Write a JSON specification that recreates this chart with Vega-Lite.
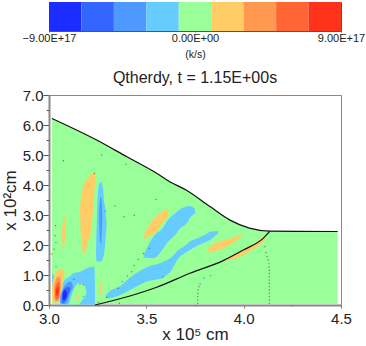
{
"$schema":"https://vega.github.io/schema/vega-lite/v6.json",
"padding":{"left":0,"top":1,"right":0,"bottom":0},
"background":"white",
"config":{"font":"Liberation Sans"},
"spacing":9,
"datasets":{
"bar":[{"lo":-9e17,"hi":-7e17,"level":-4},{"lo":-7e17,"hi":-5e17,"level":-3},{"lo":-5e17,"hi":-3e17,"level":-2},{"lo":-3e17,"hi":-1e17,"level":-1},{"lo":-1e17,"hi":1e17,"level":0},{"lo":1e17,"hi":3e17,"level":1},{"lo":3e17,"hi":5e17,"level":2},{"lo":5e17,"hi":7e17,"level":3},{"lo":7e17,"hi":9e17,"level":4}],
"blobs":[
{"blob":"domain","level":0,"x":3.015,"lo":0.03,"hi":6.22},{"blob":"domain","level":0,"x":3.245,"lo":0.03,"hi":5.5},{"blob":"domain","level":0,"x":3.4,"lo":0.03,"hi":4.94},{"blob":"domain","level":0,"x":3.553,"lo":0.03,"hi":4.39},{"blob":"domain","level":0,"x":3.62,"lo":0.03,"hi":4.11},{"blob":"domain","level":0,"x":3.704,"lo":0.03,"hi":3.83},{"blob":"domain","level":0,"x":3.827,"lo":0.03,"hi":3.28},{"blob":"domain","level":0,"x":3.93,"lo":0.03,"hi":2.83},{"blob":"domain","level":0,"x":4.03,"lo":0.03,"hi":2.56},{"blob":"domain","level":0,"x":4.135,"lo":0.03,"hi":2.46},{"blob":"domain","level":0,"x":4.483,"lo":0.03,"hi":2.45},
{"blob":"sliver","level":-1,"x":3.016,"lo":0.6,"hi":1.05},{"blob":"sliver","level":-1,"x":3.025,"lo":0.7,"hi":1.0},
{"blob":"foot","level":-1,"x":3.057,"lo":0.02,"hi":0.2},{"blob":"foot","level":-1,"x":3.067,"lo":0.02,"hi":0.6},{"blob":"foot","level":-1,"x":3.08,"lo":0.02,"hi":0.83},{"blob":"foot","level":-1,"x":3.108,"lo":0.02,"hi":0.95},{"blob":"foot","level":-1,"x":3.125,"lo":0.02,"hi":1.06},{"blob":"foot","level":-1,"x":3.159,"lo":0.02,"hi":1.11},{"blob":"foot","level":-1,"x":3.193,"lo":0.02,"hi":1.22},{"blob":"foot","level":-1,"x":3.233,"lo":0.02,"hi":1.28},{"blob":"foot","level":-1,"x":3.236,"lo":0.02,"hi":0.7},
{"blob":"hole","level":0,"x":3.104,"lo":0.02,"hi":0.02},{"blob":"hole","level":0,"x":3.116,"lo":0.02,"hi":0.33},{"blob":"hole","level":0,"x":3.134,"lo":0.02,"hi":0.61},{"blob":"hole","level":0,"x":3.147,"lo":0.02,"hi":0.7},{"blob":"hole","level":0,"x":3.159,"lo":0.05,"hi":0.74},{"blob":"hole","level":0,"x":3.168,"lo":0.14,"hi":0.72},{"blob":"hole","level":0,"x":3.185,"lo":0.28,"hi":0.61},{"blob":"hole","level":0,"x":3.193,"lo":0.39,"hi":0.39},
{"blob":"spot","level":1,"x":3.141,"lo":0.2,"hi":0.28},{"blob":"spot","level":1,"x":3.147,"lo":0.15,"hi":0.35},{"blob":"spot","level":1,"x":3.152,"lo":0.2,"hi":0.28},
{"blob":"lobeO","level":1,"x":3.017,"lo":0.09,"hi":0.72},{"blob":"lobeO","level":1,"x":3.027,"lo":0.09,"hi":0.95},{"blob":"lobeO","level":1,"x":3.039,"lo":0.09,"hi":1.11},{"blob":"lobeO","level":1,"x":3.057,"lo":0.12,"hi":1.17},{"blob":"lobeO","level":1,"x":3.067,"lo":0.5,"hi":1.17},{"blob":"lobeO","level":1,"x":3.076,"lo":0.95,"hi":1.16},{"blob":"lobeO","level":1,"x":3.082,"lo":1.12,"hi":1.14},
{"blob":"lobe2","level":2,"x":3.026,"lo":0.25,"hi":0.6},{"blob":"lobe2","level":2,"x":3.035,"lo":0.12,"hi":0.85},{"blob":"lobe2","level":2,"x":3.048,"lo":0.14,"hi":0.95},{"blob":"lobe2","level":2,"x":3.06,"lo":0.5,"hi":0.85},
{"blob":"lobe3","level":3,"x":3.031,"lo":0.3,"hi":0.55},{"blob":"lobe3","level":3,"x":3.04,"lo":0.18,"hi":0.72},{"blob":"lobe3","level":3,"x":3.05,"lo":0.22,"hi":0.78},{"blob":"lobe3","level":3,"x":3.056,"lo":0.5,"hi":0.68},
{"blob":"lobe4","level":4,"x":3.036,"lo":0.35,"hi":0.5},{"blob":"lobe4","level":4,"x":3.043,"lo":0.3,"hi":0.6},{"blob":"lobe4","level":4,"x":3.05,"lo":0.42,"hi":0.58},
{"blob":"blue2","level":-2,"x":3.057,"lo":0.1,"hi":0.28},{"blob":"blue2","level":-2,"x":3.074,"lo":0.03,"hi":0.56},{"blob":"blue2","level":-2,"x":3.091,"lo":0.06,"hi":0.72},{"blob":"blue2","level":-2,"x":3.111,"lo":0.44,"hi":0.78},{"blob":"blue2","level":-2,"x":3.122,"lo":0.56,"hi":0.67},
{"blob":"blue3","level":-3,"x":3.067,"lo":0.06,"hi":0.39},{"blob":"blue3","level":-3,"x":3.082,"lo":0.11,"hi":0.56},{"blob":"blue3","level":-3,"x":3.099,"lo":0.33,"hi":0.61},{"blob":"blue3","level":-3,"x":3.108,"lo":0.5,"hi":0.56},
{"blob":"blue4","level":-4,"x":3.07,"lo":0.19,"hi":0.33},{"blob":"blue4","level":-4,"x":3.08,"lo":0.17,"hi":0.5},{"blob":"blue4","level":-4,"x":3.091,"lo":0.28,"hi":0.44},
{"blob":"bigO","level":1,"x":3.159,"lo":3.17,"hi":3.17},{"blob":"bigO","level":1,"x":3.163,"lo":2.39,"hi":3.5},{"blob":"bigO","level":1,"x":3.168,"lo":1.95,"hi":3.72},{"blob":"bigO","level":1,"x":3.173,"lo":1.72,"hi":3.9},{"blob":"bigO","level":1,"x":3.185,"lo":1.78,"hi":4.11},{"blob":"bigO","level":1,"x":3.202,"lo":2.17,"hi":4.25},{"blob":"bigO","level":1,"x":3.214,"lo":2.39,"hi":4.35},{"blob":"bigO","level":1,"x":3.224,"lo":3.06,"hi":4.38},{"blob":"bigO","level":1,"x":3.233,"lo":3.72,"hi":4.41},{"blob":"bigO","level":1,"x":3.24,"lo":4.38,"hi":4.4},
{"blob":"vertB","level":-1,"x":3.241,"lo":1.6,"hi":1.6},{"blob":"vertB","level":-1,"x":3.243,"lo":1.5,"hi":2.2},{"blob":"vertB","level":-1,"x":3.248,"lo":1.45,"hi":3.27},{"blob":"vertB","level":-1,"x":3.255,"lo":1.45,"hi":3.95},{"blob":"vertB","level":-1,"x":3.265,"lo":1.44,"hi":4.1},{"blob":"vertB","level":-1,"x":3.276,"lo":1.55,"hi":3.95},{"blob":"vertB","level":-1,"x":3.284,"lo":1.75,"hi":3.4},{"blob":"vertB","level":-1,"x":3.288,"lo":2.0,"hi":3.3},{"blob":"vertB","level":-1,"x":3.296,"lo":2.7,"hi":2.7},
{"blob":"vertC","level":-2,"x":3.258,"lo":2.9,"hi":2.9},{"blob":"vertC","level":-2,"x":3.262,"lo":2.1,"hi":3.5},{"blob":"vertC","level":-2,"x":3.267,"lo":2.05,"hi":3.6},{"blob":"vertC","level":-2,"x":3.272,"lo":2.5,"hi":3.3},{"blob":"vertC","level":-2,"x":3.274,"lo":2.9,"hi":2.9},
{"blob":"thinO","level":1,"x":3.067,"lo":2.4,"hi":2.4},{"blob":"thinO","level":1,"x":3.072,"lo":1.83,"hi":2.85},{"blob":"thinO","level":1,"x":3.077,"lo":1.9,"hi":3.03},{"blob":"thinO","level":1,"x":3.084,"lo":2.4,"hi":2.6},
{"blob":"smallO","level":1,"x":3.259,"lo":0.55,"hi":0.55},{"blob":"smallO","level":1,"x":3.264,"lo":0.33,"hi":0.78},{"blob":"smallO","level":1,"x":3.271,"lo":0.55,"hi":0.55},
{"blob":"lowB","level":-1,"x":3.293,"lo":0.26,"hi":0.3},{"blob":"lowB","level":-1,"x":3.3,"lo":0.22,"hi":0.38},{"blob":"lowB","level":-1,"x":3.365,"lo":0.33,"hi":0.63},{"blob":"lowB","level":-1,"x":3.416,"lo":0.5,"hi":0.92},{"blob":"lowB","level":-1,"x":3.502,"lo":0.78,"hi":1.26},{"blob":"lowB","level":-1,"x":3.588,"lo":0.92,"hi":1.44},{"blob":"lowB","level":-1,"x":3.63,"lo":1.17,"hi":1.6},{"blob":"lowB","level":-1,"x":3.665,"lo":1.56,"hi":1.83},{"blob":"lowB","level":-1,"x":3.691,"lo":1.7,"hi":1.94},{"blob":"lowB","level":-1,"x":3.724,"lo":1.83,"hi":2.12},{"blob":"lowB","level":-1,"x":3.759,"lo":1.97,"hi":2.22},{"blob":"lowB","level":-1,"x":3.81,"lo":2.11,"hi":2.37},{"blob":"lowB","level":-1,"x":3.827,"lo":2.17,"hi":2.44},{"blob":"lowB","level":-1,"x":3.87,"lo":2.4,"hi":2.47},
{"blob":"upB","level":-1,"x":3.485,"lo":1.58,"hi":1.66},{"blob":"upB","level":-1,"x":3.536,"lo":1.56,"hi":2.28},{"blob":"upB","level":-1,"x":3.588,"lo":1.89,"hi":2.6},{"blob":"upB","level":-1,"x":3.605,"lo":2.05,"hi":2.78},{"blob":"upB","level":-1,"x":3.656,"lo":2.39,"hi":3.1},{"blob":"upB","level":-1,"x":3.673,"lo":2.55,"hi":3.19},{"blob":"upB","level":-1,"x":3.707,"lo":2.72,"hi":3.28},{"blob":"upB","level":-1,"x":3.724,"lo":2.9,"hi":3.3},{"blob":"upB","level":-1,"x":3.75,"lo":3.05,"hi":3.2},
{"blob":"upO","level":1,"x":3.485,"lo":2.2,"hi":2.3},{"blob":"upO","level":1,"x":3.519,"lo":2.3,"hi":2.72},{"blob":"upO","level":1,"x":3.553,"lo":2.44,"hi":2.97},{"blob":"upO","level":1,"x":3.588,"lo":2.78,"hi":3.14},{"blob":"upO","level":1,"x":3.601,"lo":2.85,"hi":3.2},{"blob":"upO","level":1,"x":3.613,"lo":3.0,"hi":3.17},
{"blob":"midO","level":1,"x":3.819,"lo":1.75,"hi":1.92},{"blob":"midO","level":1,"x":3.861,"lo":1.82,"hi":2.08},{"blob":"midO","level":1,"x":3.93,"lo":2.0,"hi":2.22},{"blob":"midO","level":1,"x":3.99,"lo":2.28,"hi":2.36},
{"blob":"edgeO","level":1,"x":3.887,"lo":1.48,"hi":1.48},{"blob":"edgeO","level":1,"x":3.93,"lo":1.5,"hi":1.62},{"blob":"edgeO","level":1,"x":3.998,"lo":1.67,"hi":1.85},{"blob":"edgeO","level":1,"x":4.067,"lo":1.94,"hi":2.1},{"blob":"edgeO","level":1,"x":4.1,"lo":2.1,"hi":2.25},{"blob":"edgeO","level":1,"x":4.115,"lo":2.28,"hi":2.3}
],
"lines":[
{"id":"top","x":3.015,"y":6.22},{"id":"top","x":3.245,"y":5.5},{"id":"top","x":3.4,"y":4.94},{"id":"top","x":3.553,"y":4.39},{"id":"top","x":3.62,"y":4.11},{"id":"top","x":3.704,"y":3.83},{"id":"top","x":3.827,"y":3.28},{"id":"top","x":3.93,"y":2.83},{"id":"top","x":4.03,"y":2.56},{"id":"top","x":4.135,"y":2.46},{"id":"top","x":4.483,"y":2.45},
{"id":"bottom","x":3.236,"y":0.0},{"id":"bottom","x":3.416,"y":0.3},{"id":"bottom","x":3.553,"y":0.59},{"id":"bottom","x":3.724,"y":1.06},{"id":"bottom","x":3.895,"y":1.48},{"id":"bottom","x":3.998,"y":1.83},{"id":"bottom","x":4.1,"y":2.22},{"id":"bottom","x":4.135,"y":2.46}
],
"dots":[
{"x":3.074,"y":4.81},{"x":3.271,"y":5.0},{"x":3.396,"y":4.69},{"x":3.233,"y":4.39},{"x":3.55,"y":3.52},{"x":3.339,"y":3.3},{"x":3.288,"y":3.13},{"x":3.385,"y":2.94},{"x":3.438,"y":2.99},{"x":3.034,"y":2.64},{"x":3.031,"y":2.31},{"x":3.036,"y":2.08},{"x":3.026,"y":1.86},{"x":3.015,"y":1.7},{"x":3.036,"y":1.28},{"x":3.515,"y":1.89},{"x":3.485,"y":1.72},{"x":3.459,"y":1.52},{"x":3.437,"y":1.32},{"x":3.425,"y":1.11},{"x":3.402,"y":0.97},{"x":3.377,"y":0.78},{"x":3.356,"y":0.56},{"x":3.296,"y":0.26},{"x":3.128,"y":0.86},{"x":3.159,"y":0.7},{"x":3.176,"y":0.68},{"x":3.176,"y":0.28},{"x":3.253,"y":0.09},{"x":3.361,"y":0.06},{"x":3.584,"y":0.93},
{"x":3.764,"y":0.05},{"x":3.764,"y":0.17},{"x":3.764,"y":0.28},{"x":3.764,"y":0.39},{"x":3.766,"y":0.5},{"x":3.77,"y":0.61},{"x":3.776,"y":0.7},{"x":3.796,"y":0.9},{"x":3.83,"y":0.98},
{"x":4.132,"y":0.05},{"x":4.132,"y":0.17},{"x":4.132,"y":0.28},{"x":4.132,"y":0.39},{"x":4.132,"y":0.5},{"x":4.132,"y":0.61},{"x":4.132,"y":0.72},{"x":4.132,"y":0.83},{"x":4.132,"y":0.94},{"x":4.132,"y":1.05},{"x":4.132,"y":1.16},{"x":4.13,"y":1.27},{"x":4.13,"y":1.38},{"x":4.126,"y":1.5},{"x":4.12,"y":1.61},{"x":4.115,"y":1.75},{"x":4.11,"y":1.94}
]
},
"vconcat":[
{"width":292,"height":29,"data":{"name":"bar"},
"mark":{"type":"rect"},
"encoding":{
"x":{"field":"lo","type":"quantitative","scale":{"domain":[-9e17,9e17],"nice":false,"zero":false},
"axis":{"values":[-9e17,0,9e17],"title":"(k/s)","titleFontSize":10.5,"titleFontWeight":"normal","titleColor":"#222","titlePadding":6,"labelFontSize":11,"labelColor":"#222","labelPadding":0,"tickSize":1,"tickColor":"#666","domain":false,"grid":false,"labelFlush":false,"labelBound":false,"labelOverlap":false,"labelExpr":"datum.value<0?'−9.00E+17':datum.value>0?'9.00E+17':'0.00E+00'"}},
"x2":{"field":"hi"},
"color":{"field":"level","type":"ordinal","legend":null,"scale":{"domain":[-4,-3,-2,-1,0,1,2,3,4],"range":["#1A2CFF","#3366FF","#4D99FF","#66CCFF","#99FF99","#FFCC66","#FF9950","#FF6633","#FF3319"]}}
},
"view":{"stroke":"#555","strokeWidth":1}
},
{"width":292,"height":210,
"title":{"text":"Qtherdy, t = 1.15E+00s","fontSize":16,"fontWeight":"normal","color":"#222","offset":2,"anchor":"middle"},
"view":{"stroke":"#888","strokeWidth":1},
"resolve":{"axis":{"x":"independent","y":"independent"}},
"layer":[
{"data":{"name":"blobs"},"mark":{"type":"area","interpolate":"monotone"},
"encoding":{
"x":{"field":"x","type":"quantitative","scale":{"domain":[3,4.5],"nice":false,"zero":false},
"axis":{"orient":"bottom","title":"x 10⁵ cm","titleFontSize":17,"titleFontWeight":"normal","titleColor":"#222","titlePadding":0,"labelFontSize":15,"labelColor":"#222","labelPadding":3,"values":[3,3.5,4,4.5],"tickColor":"#777","tickSize":3,"domainColor":"#888","domainWidth":2,"grid":false,"labelFlush":false,"labelBound":false,"labelOverlap":false,"format":".1f"}},
"y":{"field":"lo","type":"quantitative","scale":{"domain":[0,7],"nice":false,"zero":false},
"axis":{"orient":"left","title":"x 10²cm","titleFontSize":17,"titleFontWeight":"normal","titleColor":"#222","titlePadding":3,"labelFontSize":15,"labelColor":"#222","labelPadding":0,"values":[0,1,2,3,4,5,6,7],"tickColor":"#555","tickSize":6,"domainColor":"#888","domainWidth":2,"grid":false,"labelFlush":false,"labelBound":false,"labelOverlap":false,"format":".1f"}},
"y2":{"field":"hi"},
"detail":{"field":"blob"},
"color":{"field":"level","type":"ordinal","legend":null,"scale":{"domain":[-4,-3,-2,-1,0,1,2,3,4],"range":["#1A2CFF","#3366FF","#4D99FF","#66CCFF","#99FF99","#FFCC66","#FF9950","#FF6633","#FF3319"]}}
}},
{"data":{"name":"dots"},"mark":{"type":"point","filled":true,"size":2,"color":"#445544","opacity":0.7},
"encoding":{
"x":{"field":"x","type":"quantitative","axis":{"orient":"bottom","title":null,"labels":false,"domain":false,"grid":false,"values":[3.25,3.75,4.25],"tickSize":1,"tickColor":"#777"}},
"y":{"field":"y","type":"quantitative","axis":{"orient":"left","title":null,"labels":false,"domain":false,"grid":false,"values":[0.5,1.5,2.5,3.5,4.5,5.5,6.5],"tickSize":3,"tickColor":"#555"}}}},
{"data":{"name":"lines"},"mark":{"type":"line","interpolate":"monotone","color":"#111","strokeWidth":1.2},
"encoding":{"x":{"field":"x","type":"quantitative","axis":null},"y":{"field":"y","type":"quantitative","axis":null},"detail":{"field":"id"}}}
]
}
]
}
